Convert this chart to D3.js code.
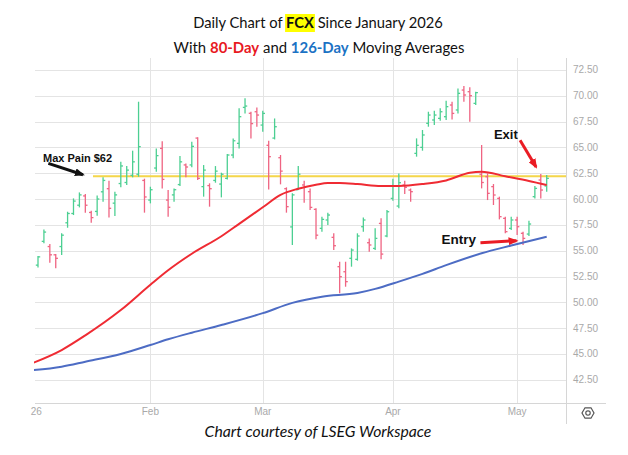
<html>
  <meta charset="utf-8" />
  <script src="https://d3js.org/d3.v7.min.js"></script>
  <style>
    body { margin: 0; background: #fff; }
    .grid { stroke: #e4e4e4; stroke-width: 1; }
    .axis-line { stroke: #d6d6d6; stroke-width: 1; }
    .tick-label { font-family: "Liberation Sans", Arial, sans-serif; font-size: 10px; fill: #a9a9a9; }
    .anno { font-family: "Liberation Sans", Arial, sans-serif; font-weight: bold; fill: #111; }
  </style>
  <body>
    <svg id="chart" width="628" height="455"></svg>
  </body>

  <script>
    // daily OHLC, first session Jan 5 2026 .. May 8 2026 (87 sessions)
    const barOpen = [
      53.6, 55.9, 55.4, 54.6, 55.4, 57.7, 58.6, 59.4, 60.3, 58.7,
      58.8, 60.7, 61.0, 59.6, 61.5, 61.6, 62.3, 62.4, 61.8, 59.9,
      63.0, 64.9, 59.9, 60.4, 61.4, 63.3, 63.3, 65.9, 61.2, 61.3,
      61.8, 61.45, 62.0, 64.26, 65.39, 68.87, 68.3, 68.45, 67.16, 65.2,
      65.9, 64.0, 61.0, 57.3, 60.9, 61.36, 60.71, 59.0, 57.16, 57.97,
      56.29, 53.45, 52.96, 54.26, 54.16, 57.32, 55.77, 55.22, 57.64, 56.42,
      60.06, 59.32, 61.36, 60.87, 64.42, 65.0, 67.33, 67.65, 67.81, 67.97,
      69.1, 68.62, 70.55, 70.39, 69.26, 62.4, 62.16, 61.2, 60.06, 58.13,
      57.16, 57.97, 56.68, 56.61, 60.23, 61.84, 61.26
    ];
    const barHigh = [
      54.48, 57.06, 55.64, 54.67, 56.68, 58.77, 60.06, 60.64, 60.48, 58.87,
      60.35, 62.1, 61.77, 60.71, 63.61, 63.19, 64.68, 69.42, 61.97, 61.19,
      64.9, 65.6, 60.87, 61.03, 64.16, 63.45, 65.55, 65.97, 63.29, 61.52,
      63.19, 62.55, 64.36, 65.87, 68.78, 69.75, 68.45, 68.87, 68.55, 65.64,
      67.8, 64.26, 61.13, 60.55, 63.19, 61.77, 61.03, 59.1, 58.29, 58.68,
      56.68, 53.93, 53.93, 55.22, 56.68, 58.22, 56.19, 57.16, 58.13, 58.93,
      61.97, 62.48, 61.77, 61.03, 65.87, 66.68, 68.45, 68.55, 68.78, 69.52,
      69.42, 70.71, 70.94, 70.81, 70.39, 65.23, 62.48, 61.45, 60.23, 58.29,
      58.29, 58.29, 56.84, 57.9, 61.26, 62.42, 62.32
    ];
    const barLow = [
      53.38, 55.71, 53.84, 53.29, 54.58, 57.22, 58.45, 59.19, 58.68, 57.71,
      58.39, 59.74, 58.22, 58.35, 61.13, 61.36, 62.1, 62.16, 58.68, 59.58,
      62.65, 61.03, 58.29, 59.74, 61.26, 62.1, 63.07, 61.84, 60.23, 59.26,
      61.58, 60.16, 61.9, 63.94, 64.9, 68.29, 65.87, 67.0, 66.52, 60.93,
      65.77, 61.42, 58.68, 55.55, 60.87, 59.64, 58.93, 56.1, 56.84, 57.48,
      55.06, 50.87, 51.51, 53.45, 54.03, 56.84, 54.9, 55.06, 54.16, 56.29,
      59.84, 59.1, 60.48, 59.74, 64.1, 64.68, 67.0, 67.16, 67.58, 67.65,
      67.71, 68.29, 69.42, 67.49, 69.1, 61.03, 59.9, 59.42, 58.03, 56.68,
      57.0, 56.52, 55.55, 56.42, 60.06, 60.06, 60.71
    ];
    const barClose = [
      54.4, 56.8, 54.6, 54.26, 56.5, 58.6, 59.8, 60.4, 59.4, 58.2,
      60.0, 61.8, 59.1, 60.4, 63.2, 62.8, 63.6, 65.07, 60.2, 60.9,
      64.2, 61.9, 59.2, 60.9, 63.6, 63.1, 65.1, 62.0, 62.8, 61.0,
      62.7, 62.4, 64.26, 65.64, 67.97, 69.0, 67.3, 68.13, 68.29, 64.1,
      67.0, 62.7, 59.26, 60.4, 62.4, 61.2, 59.19, 56.5, 58.03, 58.45,
      55.48, 52.48, 52.0, 55.06, 56.42, 57.97, 55.55, 56.19, 54.67, 58.77,
      61.26, 61.58, 61.13, 60.71, 65.2, 66.2, 68.13, 68.13, 68.45, 68.94,
      68.29, 70.23, 70.07, 70.0, 70.3, 61.6, 60.55, 60.39, 58.29, 56.84,
      57.97, 57.32, 56.19, 57.58, 61.03, 60.87, 62.0
    ];

    // moving averages read at a few sessions
    const ma80Idx = [-1, 4, 8, 14, 19, 22, 26, 31, 34, 38, 41, 44, 47, 49, 51, 54, 58, 61, 65, 69, 73, 75, 79, 83, 86];
    const ma80 = [44.1, 45.38, 46.8, 49.25, 51.7, 53.1, 54.7, 56.4, 57.6, 59.2, 60.4, 61.0, 61.38, 61.55, 61.55, 61.45, 61.25, 61.26, 61.45, 61.8, 62.55, 62.65, 62.2, 61.75, 61.36];
    const ma126Idx = [-1, 4, 8, 14, 19, 22, 26, 31, 38, 43, 48, 54, 57, 61, 65, 69, 75, 80, 86];
    const ma126 = [43.42, 43.77, 44.25, 45.0, 45.87, 46.42, 47.06, 47.8, 48.95, 49.95, 50.55, 50.9, 51.3, 52.0, 52.75, 53.6, 54.75, 55.5, 56.35];

    const monthIdx = [-0.3, 19, 38, 60, 81];
    const monthLabels = ["26", "Feb", "Mar", "Apr", "May"];
    const priceTicks = [42.5, 45, 47.5, 50, 52.5, 55, 57.5, 60, 62.5, 65, 67.5, 70, 72.5];
    const maxPain = 62.2;

    const svg = d3.select("#chart");
    const plotL = 34, plotR = 566, plotT = 58, plotB = 403;

    const xScale = d3.scaleLinear().domain([0, 86]).range([38, 546.7]);
    const yScale = d3.scaleLinear().domain([42.5, 72.5]).range([379.8, 69.9]);

    const defs = svg.append("defs");
    defs.append("clipPath").attr("id", "plot")
      .append("rect").attr("x", plotL).attr("y", plotT)
      .attr("width", plotR - plotL).attr("height", plotB - plotT);

    // grid
    svg.append("g").selectAll("line").data(priceTicks).join("line")
      .attr("class", "grid")
      .attr("x1", plotL + 1).attr("x2", plotR)
      .attr("y1", (d) => Math.round(yScale(d)) + 0.5)
      .attr("y2", (d) => Math.round(yScale(d)) + 0.5);

    svg.append("g").selectAll("line").data(monthIdx.slice(1)).join("line")
      .attr("class", "grid")
      .attr("x1", (d) => Math.round(xScale(d)) + 0.5)
      .attr("x2", (d) => Math.round(xScale(d)) + 0.5)
      .attr("y1", plotT).attr("y2", plotB);

    svg.append("line").attr("class", "axis-line")
      .attr("x1", plotL + 1).attr("x2", 606).attr("y1", plotB + 0.5).attr("y2", plotB + 0.5);
    svg.append("line").attr("class", "axis-line")
      .attr("x1", plotR + 0.5).attr("x2", plotR + 0.5).attr("y1", plotT).attr("y2", 424);

    // price labels
    svg.append("g").selectAll("text").data(priceTicks).join("text")
      .attr("class", "tick-label")
      .attr("x", 573)
      .attr("y", (d) => yScale(d) + 3.5)
      .text((d) => d3.format(".2f")(d));

    // month labels
    svg.append("g").selectAll("text").data(monthIdx).join("text")
      .attr("class", "tick-label")
      .attr("x", (d) => xScale(d))
      .attr("y", 415)
      .attr("text-anchor", "middle")
      .text((d, i) => monthLabels[i]);

    // settings icon
    const icon = svg.append("g").attr("transform", "translate(588,413)");
    const hex = d3.range(6).map((k) => {
      const a = (Math.PI / 3) * k;
      return [6 * Math.cos(a), 6 * Math.sin(a)];
    });
    icon.append("polygon").attr("points", hex.map((p) => p.join(",")).join(" "))
      .attr("fill", "none").attr("stroke", "#555").attr("stroke-width", 1.2);
    icon.append("circle").attr("r", 2.2).attr("fill", "none").attr("stroke", "#555").attr("stroke-width", 1.2);

    const plot = svg.append("g").attr("clip-path", "url(#plot)");

    // max pain level
    plot.append("line")
      .attr("x1", 93).attr("x2", plotR)
      .attr("y1", yScale(maxPain)).attr("y2", yScale(maxPain))
      .attr("stroke", "#f4d64a").attr("stroke-width", 2);

    // OHLC bars
    const bars = plot.append("g").selectAll("g").data(barOpen).join("g")
      .attr("stroke", (d, i) => (barClose[i] >= d ? "#4ccf92" : "#ef6482"))
      .attr("stroke-width", 1.3);
    bars.append("line")
      .attr("x1", (d, i) => xScale(i)).attr("x2", (d, i) => xScale(i))
      .attr("y1", (d, i) => yScale(barHigh[i])).attr("y2", (d, i) => yScale(barLow[i]));
    bars.append("line")
      .attr("x1", (d, i) => xScale(i) - 2.2).attr("x2", (d, i) => xScale(i))
      .attr("y1", (d) => yScale(d)).attr("y2", (d) => yScale(d));
    bars.append("line")
      .attr("x1", (d, i) => xScale(i)).attr("x2", (d, i) => xScale(i) + 2.2)
      .attr("y1", (d, i) => yScale(barClose[i])).attr("y2", (d, i) => yScale(barClose[i]));

    // moving averages
    const line = d3.line().curve(d3.curveMonotoneX)
      .x((d) => xScale(d[0])).y((d) => yScale(d[1]));
    plot.append("path")
      .attr("d", line(d3.zip(ma126Idx, ma126)))
      .attr("fill", "none").attr("stroke", "#4d6cc4").attr("stroke-width", 2);
    plot.append("path")
      .attr("d", line(d3.zip(ma80Idx, ma80)))
      .attr("fill", "none").attr("stroke", "#ef2b33").attr("stroke-width", 2);

    // annotations
    [["headBlack", "#111"], ["headRed", "#ea1c24"]].forEach(([id, c]) => {
      defs.append("marker").attr("id", id)
        .attr("markerWidth", 10).attr("markerHeight", 8)
        .attr("refX", 8).attr("refY", 4)
        .attr("orient", "auto").attr("markerUnits", "userSpaceOnUse")
        .append("polygon").attr("points", "0 0, 10 4, 0 8").attr("fill", c);
    });

    function arrow(i1, p1, i2, p2, head, color) {
      svg.append("line")
        .attr("x1", xScale(i1)).attr("y1", yScale(p1))
        .attr("x2", xScale(i2)).attr("y2", yScale(p2))
        .attr("stroke", color).attr("stroke-width", 3)
        .attr("marker-end", `url(#${head})`);
    }

    svg.append("text").attr("class", "anno").attr("font-size", 11)
      .attr("x", xScale(0.85)).attr("y", yScale(63.6)).text("Max Pain $62");
    arrow(1.75, 63.45, 7.6, 62.35, "headBlack", "#111");

    svg.append("text").attr("class", "anno").attr("font-size", 13)
      .attr("x", xScale(79.1)).attr("y", yScale(65.8)).attr("text-anchor", "middle").text("Exit");
    arrow(81.5, 65.7, 84.2, 63.1, "headRed", "#ea1c24");

    svg.append("text").attr("class", "anno").attr("font-size", 13.5)
      .attr("x", xScale(74.05)).attr("y", yScale(55.6)).attr("text-anchor", "end").text("Entry");
    arrow(74.8, 55.77, 80.9, 55.96, "headRed", "#ea1c24");

    // titles
    function fit(sel, target) {
      const w = sel.node().getComputedTextLength();
      const fs = parseFloat(sel.attr("font-size"));
      sel.attr("font-size", (fs * target) / w);
    }

    const titleFont = "Lato, 'Liberation Sans', Arial, sans-serif";
    const hl = svg.append("rect").attr("fill", "#ffff00");
    const t1 = svg.append("text").attr("x", 318).attr("y", 28)
      .attr("text-anchor", "middle").attr("font-family", titleFont)
      .attr("font-size", 16).attr("fill", "#111");
    t1.append("tspan").text("Daily Chart of ");
    t1.append("tspan").attr("font-weight", "bold").text("FCX");
    t1.append("tspan").text(" Since January 2026");
    fit(t1, 250);

    const n = t1.node();
    const fx = n.getStartPositionOfChar(15).x;
    const xx = n.getEndPositionOfChar(17).x;
    hl.attr("x", fx - 1).attr("y", 14).attr("width", xx - fx + 2).attr("height", 18);

    const t2 = svg.append("text").attr("x", 319).attr("y", 53)
      .attr("text-anchor", "middle").attr("font-family", titleFont)
      .attr("font-size", 16).attr("fill", "#111");
    t2.append("tspan").text("With ");
    t2.append("tspan").attr("font-weight", "bold").attr("fill", "#e8191f").text("80-Day");
    t2.append("tspan").text(" and ");
    t2.append("tspan").attr("font-weight", "bold").attr("fill", "#1b72c4").text("126-Day");
    t2.append("tspan").text(" Moving Averages");
    fit(t2, 291);

    const cap = svg.append("text").attr("x", 318).attr("y", 437)
      .attr("text-anchor", "middle").attr("font-family", titleFont)
      .attr("font-style", "italic").attr("font-size", 15).attr("fill", "#111")
      .text("Chart courtesy of LSEG Workspace");
    fit(cap, 227);
  </script>
</html>
